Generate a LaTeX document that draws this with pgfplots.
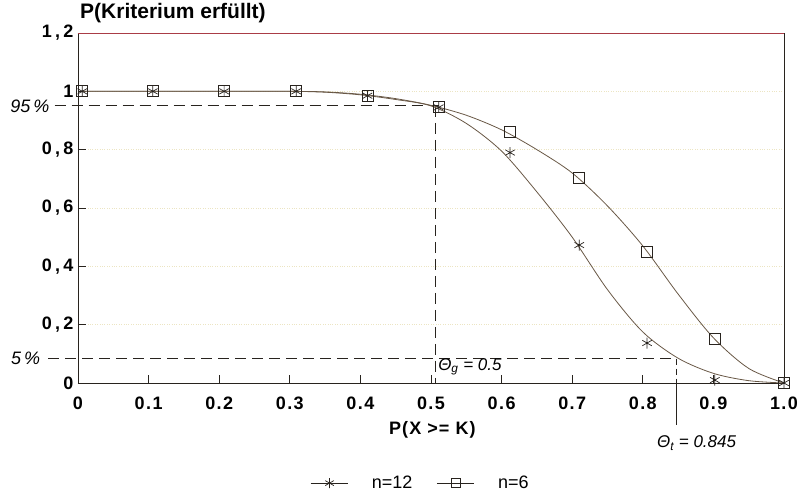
\documentclass[border=0pt]{standalone}
\usepackage{fontspec}
\setmainfont{Liberation Sans}
\usepackage{pgfplots}
\pgfplotsset{compat=1.18}
\definecolor{curve}{RGB}{105,88,70}
\definecolor{mk}{RGB}{40,35,30}
\definecolor{gridc}{RGB}{236,229,195}
\definecolor{topc}{RGB}{170,60,70}
\begin{document}
\begin{tikzpicture}[x=1pt,y=1pt]
\useasboundingbox (-78,-110) rectangle (723,383);
\begin{axis}[
  at={(0,0)}, anchor=south west,
  scale only axis, width=706pt, height=350pt,
  xmin=0, xmax=1, ymin=0, ymax=1.2,
  clip=false,
  xtick={0,0.1,0.2,0.3,0.4,0.5,0.6,0.7,0.8,0.9,1.0},
  xticklabels={0,0.1,0.2,0.3,0.4,0.5,0.6,0.7,0.8,0.9,1.0},
  ytick={0,0.2,0.4,0.6,0.8,1,1.2},
  yticklabels={0,{0,2},{0,4},{0,6},{0,8},1,{1,2}},
  xtick pos=lower, ytick pos=left,
  tick align=inside, major tick length=8pt,
  tick style={color=mk, line width=0.8pt},
  axis line style={color=mk, line width=0.9pt},
  ymajorgrids, grid style={dotted, color=gridc, line width=0.8pt},
  xticklabel style={font=\fontsize{18}{20}\selectfont\bfseries\addfontfeature{LetterSpace=8}, yshift=-10pt},
  yticklabel style={font=\fontsize{18}{20}\selectfont\bfseries\addfontfeature{LetterSpace=18}, xshift=-1pt},
  legend style={at={(0.485,-0.286)}, anchor=center, legend columns=2, draw=none, fill=none,
    font=\fontsize{18}{20}\selectfont, column sep=22pt, inner sep=0pt},
  legend image code/.code={\draw[#1] (0pt,0pt) -- (37pt,0pt); \draw[#1, mark repeat=1] plot coordinates {(19pt,0pt)};},
]
% reference lines
\addplot[forget plot, color=mk, line width=0.9pt, dash pattern=on 11pt off 6pt] coordinates {(-0.033,0.95) (0.511,0.95)};
\addplot[forget plot, color=mk, line width=0.9pt, dash pattern=on 11pt off 6pt] coordinates {(0.507,0.95) (0.507,0)};
\addplot[forget plot, color=mk, line width=0.9pt, dash pattern=on 11pt off 6pt] coordinates {(-0.042,0.084) (0.848,0.084)};
\addplot[forget plot, color=mk, line width=0.9pt, dash pattern=on 6pt off 4pt] coordinates {(0.848,0.084) (0.848,0)};
\addplot[forget plot, color=mk, line width=0.9pt] coordinates {(0.848,0) (0.848,-0.144)};
% curves
\addplot[forget plot, smooth, color=curve, line width=0.8pt] coordinates {
(0.006,1) (0.1,1) (0.2,1) (0.3,1) (0.35,0.997) (0.4,0.988) (0.45,0.972) (0.5,0.950)
(0.55,0.89) (0.6,0.795) (0.65,0.655) (0.7,0.50) (0.75,0.32) (0.8,0.175) (0.85,0.085)
(0.9,0.033) (0.95,0.008) (1.0,0)};
\addplot[forget plot, smooth, color=curve, line width=0.8pt] coordinates {
(0.006,1) (0.1,1) (0.2,1) (0.3,1) (0.35,0.998) (0.4,0.99) (0.45,0.975) (0.5,0.952)
(0.55,0.918) (0.6,0.868) (0.65,0.80) (0.7,0.72) (0.75,0.607) (0.8,0.47) (0.85,0.305)
(0.9,0.155) (0.95,0.05) (1.0,0)};
% markers
\addplot[forget plot, only marks, mark=asterisk, mark size=5.5pt, color=mk, line width=0.7pt] coordinates {
(0.006,1) (0.106,1) (0.207,1) (0.309,1) (0.41,0.985) (0.511,0.945) (0.612,0.79)
(0.71,0.473) (0.806,0.137) (0.902,0.01) (1.0,0)};
\addplot[forget plot, only marks, mark=square, mark size=5.5pt, color=mk, line width=0.8pt] coordinates {
(0.006,1) (0.106,1) (0.207,1) (0.309,1) (0.41,0.985) (0.511,0.948) (0.612,0.861)
(0.71,0.702) (0.806,0.450) (0.902,0.150) (1.0,0)};
\addlegendimage{color=mk, line width=0.7pt, mark=asterisk, mark size=5pt}
\addlegendentry{n=12}
\addlegendimage{color=mk, line width=0.7pt, mark=square, mark size=4.5pt}
\addlegendentry{n=6}
% top frame tint
\draw[color=topc, line width=0.9pt] (rel axis cs:0,1) -- (rel axis cs:1,1);
% texts
\node[anchor=south west, font=\fontsize{21}{23}\selectfont\bfseries, inner sep=0pt] at ([xshift=2pt,yshift=10pt]rel axis cs:0,1) {P(Kriterium erfüllt)};
\node[anchor=center, font=\fontsize{18}{20}\selectfont\bfseries\addfontfeature{LetterSpace=6}] at ([yshift=-47pt]axis cs:0.502,0) {P(X >= K)};
\node[anchor=east, font=\fontsize{18}{20}\selectfont\itshape, inner sep=0pt] at ([xshift=-5pt]axis cs:-0.033,0.95) {95\,\%};
\node[anchor=east, font=\fontsize{18}{20}\selectfont\itshape, inner sep=0pt] at ([xshift=-8pt]axis cs:-0.042,0.084) {5\,\%};
\node[anchor=west, font=\fontsize{17}{19}\selectfont\itshape, inner sep=0pt] at (axis cs:0.51,0.055) {Θ\textsubscript{g} = 0.5};
\node[anchor=west, font=\fontsize{17}{19}\selectfont\itshape, inner sep=0pt] at (axis cs:0.82,-0.206) {Θ\textsubscript{t} = 0.845};
\end{axis}
\end{tikzpicture}
\end{document}
